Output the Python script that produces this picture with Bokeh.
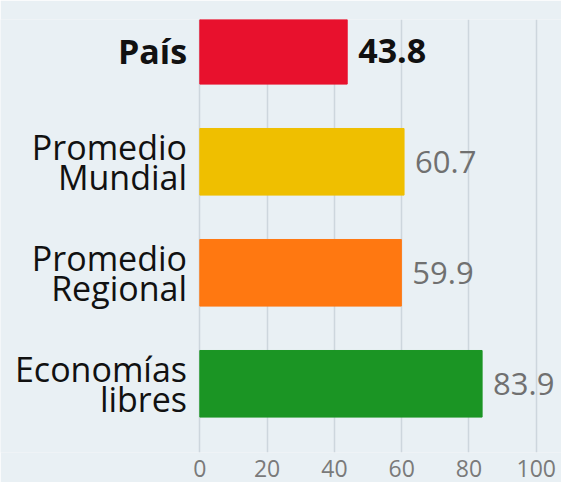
from bokeh.plotting import figure
from bokeh.models import ColumnDataSource, Range1d, FixedTicker
from bokeh.core.properties import value
from bokeh.embed import file_html
from bokeh.resources import INLINE

categories = ["País", "Promedio\nMundial", "Promedio\nRegional", "Economías\nlibres"]
values = [43.8, 60.7, 59.9, 83.9]
value_labels = ["43.8", "60.7", "59.9", "83.9"]
colors = ["#e8112d", "#efbf00", "#ff7811", "#1b9524"]
label_styles = ["bold", "normal", "normal", "normal"]
value_colors = ["#111111", "#707070", "#707070", "#707070"]
value_sizes = ["34px", "31px", "31px", "31px"]
tick_values = [0, 20, 40, 60, 80, 100]

BG = "#e9f0f4"
positions = list(range(len(categories)))

src = ColumnDataSource(dict(
    y=positions, v=values, cat=categories, vl=value_labels, col=colors,
    style=label_styles, vcol=value_colors, vsize=value_sizes,
    lx=[-3.8] * len(categories),
))

p = figure(width=561, height=482, output_backend="svg", toolbar_location=None,
           x_range=Range1d(-59.25, 107.5), y_range=Range1d(3.619, -0.282),
           min_border_left=0, min_border_right=0, min_border_top=19, min_border_bottom=30)
p.background_fill_color = BG
p.border_fill_color = BG
p.outline_line_color = None

p.yaxis.visible = False
p.ygrid.grid_line_color = None
p.xgrid.grid_line_color = "#cdd6dd"
p.xgrid.grid_line_width = 1.5

ax = p.xaxis[0]
ax.ticker = FixedTicker(ticks=tick_values)
ax.axis_line_color = None
ax.major_tick_line_color = None
ax.minor_tick_line_color = None
ax.major_label_text_font = "Open Sans"
ax.major_label_text_font_size = "23px"
ax.major_label_text_color = "#7a7a7a"
ax.major_label_standoff = 1

p.hbar(y="y", right="v", left=0, height=0.6, color="col", source=src)

p.text(x="lx", y="y", text="cat", source=src, text_align="right", text_baseline="middle",
       text_font=value("Open Sans"), text_font_size="34px", text_font_style="style",
       text_color="#111111", text_line_height=0.64)

p.text(x="v", y="y", text="vl", source=src, x_offset=11, text_align="left",
       text_baseline="middle", text_font=value("Open Sans"), text_font_size="vsize",
       text_font_style="style", text_color="vcol")

open("out.html", "w").write(file_html(p, INLINE))
